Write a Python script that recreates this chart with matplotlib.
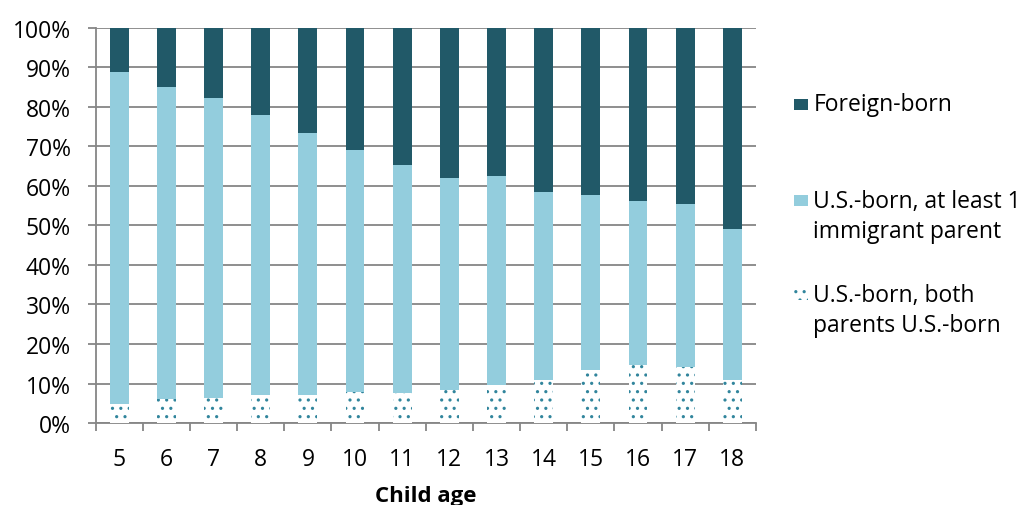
import matplotlib.pyplot as plt
from matplotlib.patches import Rectangle
from matplotlib.ticker import PercentFormatter
import numpy as np

plt.rcParams['font.family'] = ['Open Sans', 'DejaVu Sans']
plt.rcParams['hatch.linewidth'] = 1.1

ages = ['5', '6', '7', '8', '9', '10', '11', '12', '13', '14', '15', '16', '17', '18']
# shares of children in each group, percent
both_us_born = [4.9, 6.2, 6.4, 7.2, 7.2, 7.8, 7.7, 8.4, 9.7, 11.0, 13.5, 14.7, 14.2, 11.0]
one_immigrant = [83.8, 78.8, 75.9, 70.8, 66.3, 61.4, 57.6, 53.6, 52.8, 47.5, 44.3, 41.6, 41.3, 38.2]
foreign_born = [11.3, 15.0, 17.7, 22.0, 26.5, 30.8, 34.7, 38.0, 37.5, 41.5, 42.2, 43.7, 44.5, 50.8]

labels = ['Foreign-born', 'U.S.-born, at least 1\nimmigrant parent',
          'U.S.-born, both\nparents U.S.-born']

dark = '#215968'
light = '#93cddd'
dots = '#31859c'
grid = '#868686'
fs = 16.5

fig = plt.figure(figsize=(10.27, 5.06), dpi=100)
ax = fig.add_axes([0.0932, 0.162, 0.6428, 0.781])

x = np.arange(len(ages))
w = 0.40
bottom = np.array(both_us_born)
mid = bottom + np.array(one_immigrant)

ax.bar(x, both_us_born, w, color='white', edgecolor=dots, linewidth=0,
       hatch='..', zorder=3)
ax.bar(x, one_immigrant, w, bottom=bottom, color=light, linewidth=0, zorder=3)
ax.bar(x, foreign_born, w, bottom=mid, color=dark, linewidth=0, zorder=3)

ax.set_xlim(-0.5, len(ages) - 0.5)
ax.set_ylim(0, 100)
ax.set_yticks(np.arange(0, 101, 10))
ax.yaxis.set_major_formatter(PercentFormatter(decimals=0))
ax.yaxis.grid(True, color=grid, linewidth=1.3, zorder=0)

# category labels centred, tick marks between categories
ax.set_xticks(x)
ax.set_xticklabels(ages)
ax.set_xticks(np.arange(-0.5, len(ages)), minor=True)
ax.tick_params(axis='x', which='major', length=0, pad=17, labelsize=fs)
ax.tick_params(axis='x', which='minor', length=6, width=1.3, color=grid, direction='out')
ax.tick_params(axis='y', length=6, width=1.3, color=grid, pad=12, labelsize=fs)

for side in ['top', 'right']:
    ax.spines[side].set_visible(False)
for side in ['left', 'bottom']:
    ax.spines[side].set_color(grid)
    ax.spines[side].set_linewidth(1.3)

ax.set_xlabel('Child age', fontsize=16, fontweight='bold', labelpad=10)

# legend drawn by hand so the entries sit where they should
legend_y = [0.792, 0.571, 0.385]
face = [dark, light, 'white']
for lab, yy, fc in zip(labels, legend_y, face):
    line0 = yy if '\n' not in lab else yy + 0.031
    sq = Rectangle((0.773, line0 - 0.011), 0.0135, 0.022, transform=fig.transFigure,
                   facecolor=fc, edgecolor=dots if fc == 'white' else 'none',
                   linewidth=0, hatch='..' if fc == 'white' else None)
    fig.patches.append(sq)
    fig.text(0.792, yy, lab, fontsize=fs, va='center', ha='left', linespacing=1.3)

fig.savefig('out.png', dpi=100)
